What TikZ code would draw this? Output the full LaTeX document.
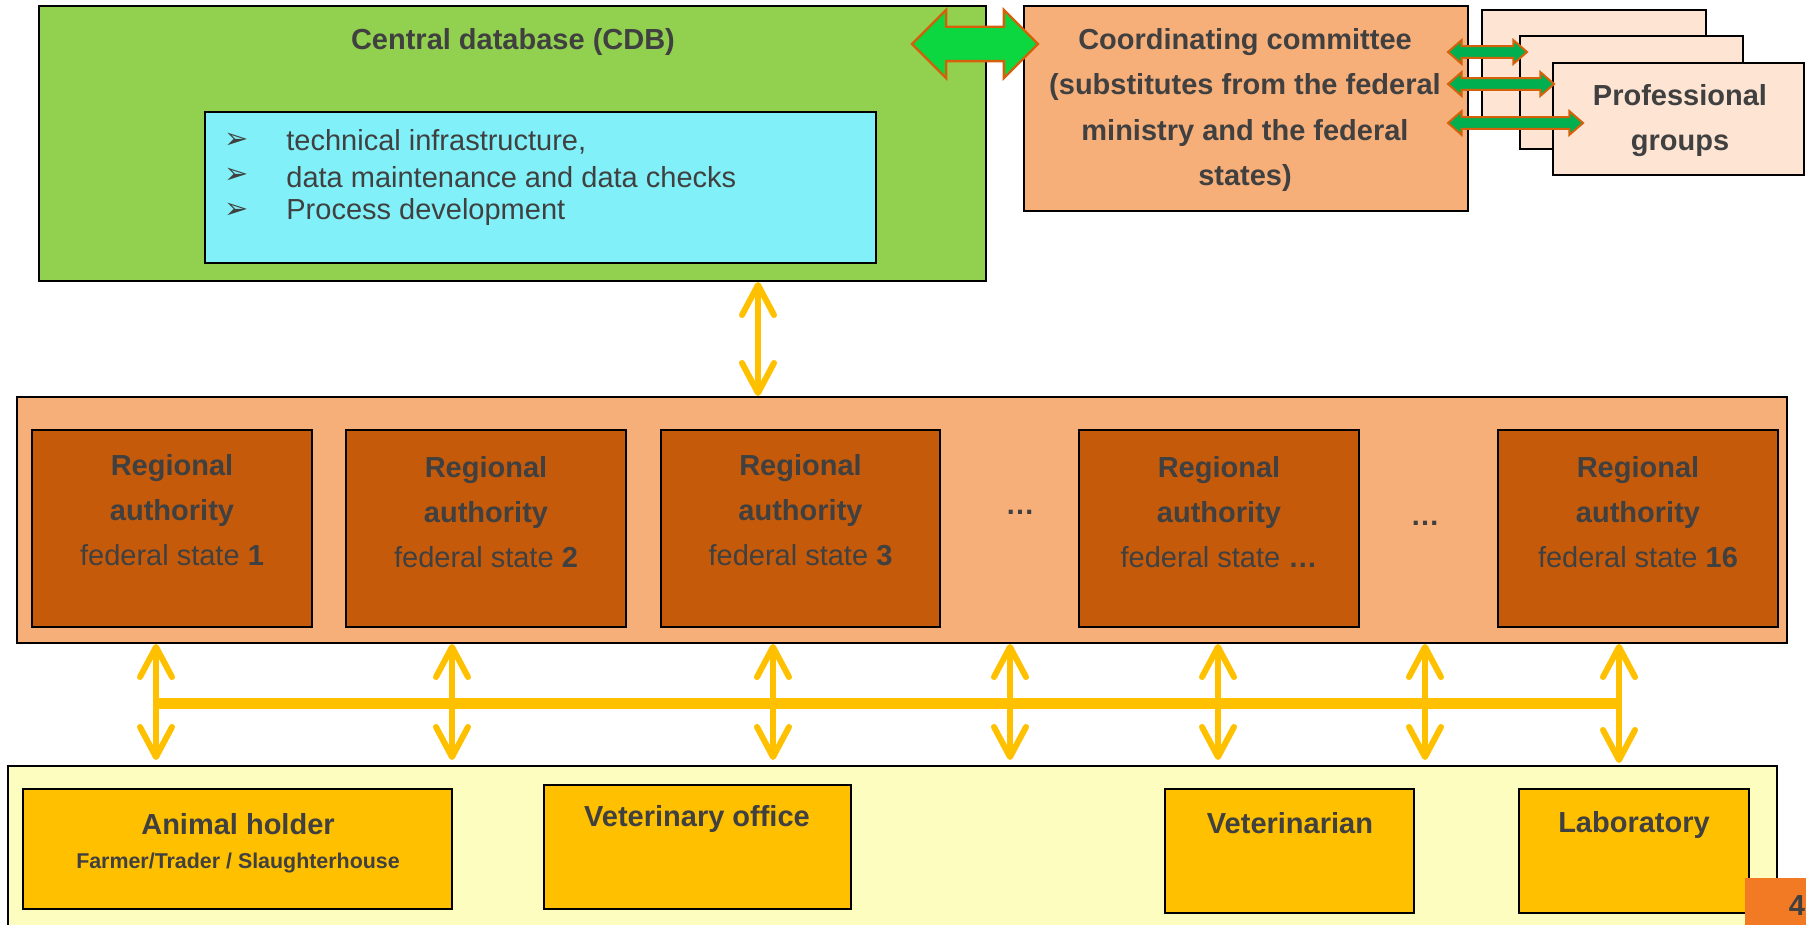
\documentclass[tikz,border=0pt]{standalone}
\usepackage{fontspec}
\setmainfont{Liberation Sans}
\newfontfamily\symfont{DejaVu Sans}
\usetikzlibrary{arrows.meta,shapes.arrows}

\definecolor{cdbgreen}{RGB}{146,208,80}
\definecolor{taskcyan}{RGB}{129,240,248}
\definecolor{peach}{RGB}{247,175,122}
\definecolor{lightpeach}{RGB}{253,228,211}
\definecolor{rust}{RGB}{197,90,10}
\definecolor{gold}{RGB}{255,192,0}
\definecolor{paleyellow}{RGB}{253,253,192}
\definecolor{textgray}{RGB}{64,64,64}
\definecolor{arrowgreen}{RGB}{12,214,64}
\definecolor{darkgreen}{RGB}{0,176,80}
\definecolor{rim}{RGB}{214,96,10}
\definecolor{pageorange}{RGB}{242,122,36}

\newcommand\lblfont{\fontsize{14.5}{22.6}\selectfont\bfseries}
\newcommand\itemfont{\fontsize{14.5}{17}\selectfont}
\newcommand\smallbf{\fontsize{10.7}{13}\selectfont\bfseries}

\tikzset{
  box/.style 2 args={draw=black, line width=1pt, inner sep=0pt,
    minimum width=#1*0.5pt, minimum height=#2*0.5pt},
  lbl/.style={text=textgray, font=\lblfont, align=center, inner sep=0pt},
  item/.style={text=textgray, font=\itemfont, anchor=west, inner sep=0pt},
  updown/.style={draw=gold, line width=3pt,
    {Straight Barb[length=15pt,width=16pt,round]}-{Straight Barb[length=15pt,width=16pt,round]}},
  bus/.style={draw=gold, line width=5.5pt},
  fatlink/.style={double arrow, fill=arrowgreen, draw=rim, line width=1.2pt,
    inner xsep=0pt, inner ysep=8pt, double arrow head extend=17*0.5pt},
  thinlink/.style={double arrow, fill=darkgreen, draw=rim, line width=1pt,
    inner xsep=0pt, inner ysep=2.4pt, double arrow head extend=6*0.5pt, double arrow tip angle=82}
}

\begin{document}
\begin{tikzpicture}[x=0.5pt,y=-0.5pt]
  \useasboundingbox (0,0) rectangle (1806,925);

  % central database
  \node[box={947}{275}, fill=cdbgreen] (cdb) at (512.5,143.5) {};
  \node[lbl] (cdbtitle) at (513,42) {Central database (CDB)};
  \node[box={671}{151}, fill=taskcyan] (tasks) at (540.5,187.5) {};
  \node[text=textgray, font=\symfont\itemfont] (bul1) at (237,141) {➢};
  \node[text=textgray, font=\symfont\itemfont] (bul2) at (237,176) {➢};
  \node[text=textgray, font=\symfont\itemfont] (bul3) at (237,211) {➢};
  \node[item] (task1) at (286,142) {technical infrastructure,};
  \node[item] (task2) at (286,177) {data maintenance and data checks};
  \node[item] (task3) at (286,212) {Process development};

  % committee and professional groups
  \node[box={444}{205}, fill=peach] (cc) at (1246,108.5) {};
  \node[lbl] (cctext) at (1245,110) {Coordinating committee\\(substitutes from the federal\\ministry and the federal\\states)};
  \node[box={224}{107}, fill=lightpeach] (pgback) at (1594,63.5) {};
  \node[box={223}{113}, fill=lightpeach] (pgmid) at (1631.5,92.5) {};
  \node[box={251}{112}, fill=lightpeach] (pg) at (1678.5,119) {};
  \node[lbl] (pgtext) at (1680,120.5) {Professional\\groups};

  \node[fatlink, minimum height=126*0.5pt] (cdblink) at (975,44) {};
  \node[thinlink, minimum height=79*0.5pt] (pglink1) at (1487.5,52) {};
  \node[thinlink, minimum height=106*0.5pt] (pglink2) at (1501,84) {};
  \node[thinlink, minimum height=135*0.5pt] (pglink3) at (1515.5,123) {};

  % regional authorities
  \node[box={1770}{246}, fill=peach] (region) at (902,520) {};
  \node[box={280}{197}, fill=rust] (ra1) at (172,528.5) {};
  \node[box={280}{197}, fill=rust] (ra2) at (486,528.5) {};
  \node[box={279}{197}, fill=rust] (ra3) at (800.5,528.5) {};
  \node[box={280}{197}, fill=rust] (ra4) at (1219,528.5) {};
  \node[box={280}{197}, fill=rust] (ra5) at (1638,528.5) {};
  \node[lbl] (ra1text) at (172,510) {Regional\\authority\\{\mdseries federal state }1};
  \node[lbl] (ra2text) at (486,512) {Regional\\authority\\{\mdseries federal state }2};
  \node[lbl] (ra3text) at (800.5,510) {Regional\\authority\\{\mdseries federal state }3};
  \node[lbl] (ra4text) at (1219,512) {Regional\\authority\\{\mdseries federal state }…};
  \node[lbl] (ra5text) at (1638,512) {Regional\\authority\\{\mdseries federal state }16};
  \node[lbl] (dots1) at (1020,512) {…};
  \node[lbl] (dots2) at (1425,523) {…};

  % participants
  \node[box={1769}{174}, fill=paleyellow] (base) at (892.5,853) {};
  \node[box={429}{120}, fill=gold] (holder) at (237.5,849) {};
  \node[box={307}{124}, fill=gold] (office) at (697.5,847) {};
  \node[box={249}{124}, fill=gold] (vet) at (1289.5,851) {};
  \node[box={230}{124}, fill=gold] (lab) at (1634,851) {};
  \node[lbl] (holdertext) at (238,824) {Animal holder};
  \node[text=textgray, font=\smallbf, inner sep=0pt] (holdersub) at (238,863) {Farmer/Trader / Slaughterhouse};
  \node[lbl] (officetext) at (697,819) {Veterinary office};
  \node[lbl] (vettext) at (1290,823) {Veterinarian};
  \node[lbl] (labtext) at (1634,825) {Laboratory};

  \node[box={61}{47}, fill=pageorange, draw=none] (page) at (1775.5,901.5) {};
  \node[lbl] (pagenum) at (1797,906) {4};

  % data links
  \coordinate (up) at (758,0);
  \draw[updown] (cdb.south -| up) -- (region.north -| up);

  \coordinate (busy) at (0,703);
  \coordinate (c1) at (156,0);
  \coordinate (c2) at (452,0);
  \coordinate (c3) at (773,0);
  \coordinate (c4) at (1010,0);
  \coordinate (c5) at (1218,0);
  \coordinate (c6) at (1425,0);
  \coordinate (c7) at (1619,0);
  \draw[bus] (c1 |- busy) -- (c7 |- busy);
  \draw[updown, shorten >=2.5pt] (region.south -| c1) -- (base.north -| c1);
  \draw[updown, shorten >=2.5pt] (region.south -| c2) -- (base.north -| c2);
  \draw[updown, shorten >=2.5pt] (region.south -| c3) -- (base.north -| c3);
  \draw[updown, shorten >=2.5pt] (region.south -| c4) -- (base.north -| c4);
  \draw[updown, shorten >=2.5pt] (region.south -| c5) -- (base.north -| c5);
  \draw[updown, shorten >=2.5pt] (region.south -| c6) -- (base.north -| c6);
  \draw[updown, shorten >=1pt] (region.south -| c7) -- (base.north -| c7);
\end{tikzpicture}
\end{document}
